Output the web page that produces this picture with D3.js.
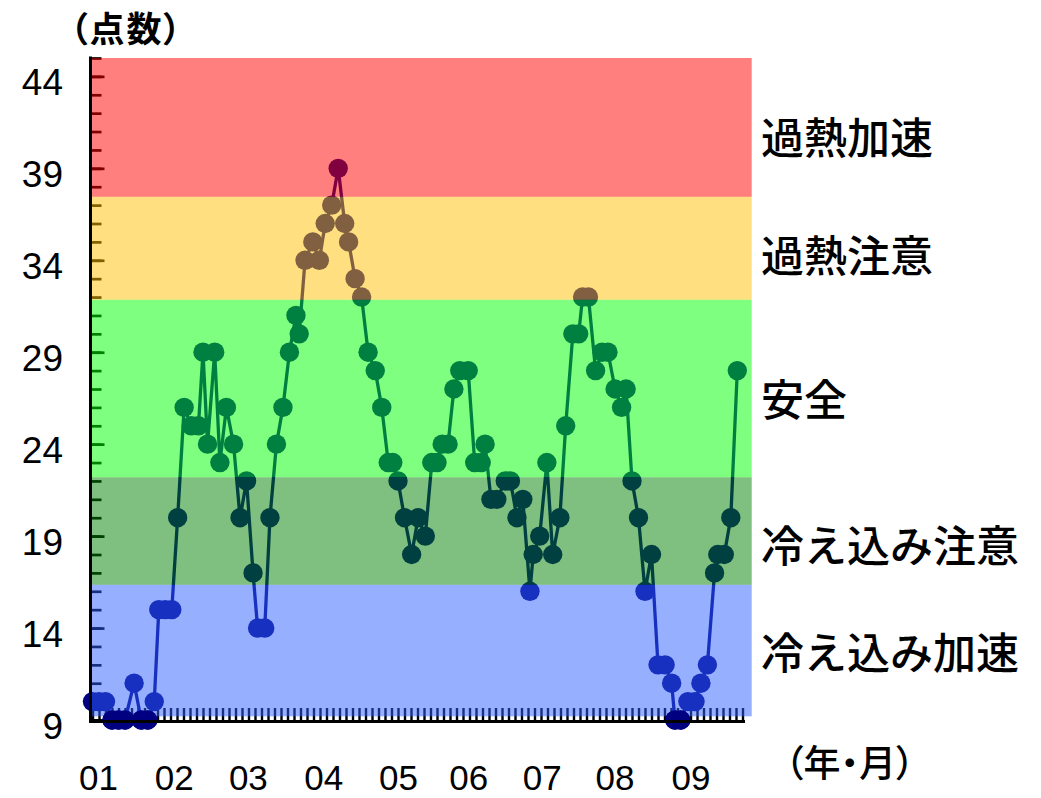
<!DOCTYPE html>
<html><head><meta charset="utf-8">
<script src="https://cdn.jsdelivr.net/npm/d3@7"></script>
<style>
body{margin:0;background:#fff}
svg{display:block}
</style>
</head><body>
<svg id="chart" width="1041" height="798"></svg>
<script>
// ---- data ----
const pos = [
  0,1,2,3,4,5,6.4,7.5,8.5,9.5,
  10.2,11.2,12.2,13.1,14.1,15.2,16.3,17,17.7,18.8,
  19.6,20.6,21.7,22.7,23.7,24.7,25.4,26.5,27.3,28.3,
  29.3,30.3,31.3,31.8,32.7,33.9,34.9,35.8,36.8,37.8,
  38.8,39.4,40.4,41.4,42.4,43.5,44.5,45.5,46.2,47,
  48,49.1,50.1,51.2,52.2,53,53.8,54.7,55.6,56.5,
  57.8,58.8,59.8,60.4,61.3,62.2,63.5,64.3,65.3,66.2,
  67.3,67.8,68.8,69.9,70.8,71.9,72.8,73.9,74.8,75.4,
  76.3,77.4,78.4,79.3,80.4,81.4,82.1,83,84,85,
  86,87,88.1,89.1,89.6,90.5,91.6,92.7,93.6,94.6,
  95.7,96.2,97.2,98.2,99.2
];
const scores = [
  10,10,10,9,9,9,11,9,9,10,
  15,15,15,20,26,25,25,29,24,29,
  23,26,24,20,22,17,14,14,20,24,
  26,29,31,30,34,35,34,36,37,39,
  36,35,33,32,29,28,26,23,23,22,
  20,18,20,19,23,23,24,24,27,28,
  28,23,23,24,21,21,22,22,20,21,
  16,18,19,23,18,20,25,30,30,32,
  32,28,29,29,27,26,27,22,20,16,
  18,12,12,11,9,9,10,10,11,12,
  17,18,18,20,28
];
const monthLabels = ["01","02","03","04","05","06","07","08","09"];
const monthPos = [0.85,12.5,23.9,35.5,47,57.8,69.1,80.3,92];
const yTickLabels = [9,14,19,24,29,34,39,44];
const bandNames = ["過熱加速","過熱注意","安全","冷え込み注意","冷え込み加速"];
const bandTops = [45,37.45,31.85,22.2,16.35];
const bandBottoms = [37.45,31.85,22.2,16.35,9.2];
const yAxisTitle = "（点数）";
const xAxisTitle = "（年・月）";

// ---- layout / style ----
const bandColors = ["#ff0000","#ffc000","#00ff00","#008000","#2d5fff"];
const labelOffset = [27,24,27,31,18];
const x = d3.scaleLinear().domain([0,100]).range([92.5,742.5]);
const y = d3.scaleLinear().domain([9,45]).range([720,58]);
const data = pos.map((p,i)=>({p, v:scores[i]}));

const svg = d3.select("#chart");

// y-axis ticks (minor and major)
const gMinor = svg.append("g").attr("transform","translate(91.5,0)")
  .call(d3.axisRight(y).tickValues(d3.range(9,46)).tickSize(10).tickFormat(""));
const gMajor = svg.append("g").attr("transform","translate(91.5,0)")
  .call(d3.axisRight(y).tickValues(yTickLabels).tickSize(13).tickFormat(""));
[gMinor,gMajor].forEach(g=>{
  g.select(".domain").remove();
  g.selectAll("line").attr("stroke","#000").attr("stroke-width",2.7);
});

// x-axis ticks
const gx = svg.append("g").attr("transform","translate(0,720)")
  .call(d3.axisTop(x).tickValues(d3.range(0,101)).tickSize(12).tickFormat(""));
gx.select(".domain").remove();
gx.selectAll("line").attr("stroke","#000").attr("stroke-width",2.4);

// data line and points
const line = d3.line().x(d=>x(d.p)).y(d=>y(d.v));
svg.append("path").datum(data).attr("d",line)
  .attr("fill","none").attr("stroke","#000080").attr("stroke-width",3.3).attr("stroke-linejoin","round");
svg.append("g").selectAll("circle").data(data).join("circle")
  .attr("cx",d=>x(d.p)).attr("cy",d=>y(d.v)).attr("r",9.7).attr("fill","#000080");

// band overlays
svg.append("g").selectAll("rect").data(bandTops).join("rect")
  .attr("x",92).attr("width",751.7-92)
  .attr("y",d=>y(d)).attr("height",(d,i)=>y(bandBottoms[i])-y(d))
  .attr("fill",(d,i)=>bandColors[i]).attr("fill-opacity",0.5);

// points below the bands stay uncovered
svg.append("g").selectAll("circle").data(data.filter(d=>d.v < bandBottoms[bandBottoms.length-1])).join("circle")
  .attr("cx",d=>x(d.p)).attr("cy",d=>y(d.v)).attr("r",9.7).attr("fill","#000080");

// axis lines
svg.append("line").attr("x1",90.5).attr("x2",90.5).attr("y1",56.5).attr("y2",723)
  .attr("stroke","#000").attr("stroke-width",3);
svg.append("line").attr("x1",89).attr("x2",745).attr("y1",721.5).attr("y2",721.5)
  .attr("stroke","#000").attr("stroke-width",3);

// y labels
const gyl = svg.append("g").attr("transform","translate(63,0)")
  .call(d3.axisLeft(y).tickValues(yTickLabels).tickSize(0).tickPadding(0));
gyl.select(".domain").remove();
gyl.selectAll("text").attr("dy","0.5em")
  .attr("font-family","'Liberation Sans', Arial, sans-serif").attr("font-size",37).attr("fill","#000");

// x labels
const gxl = svg.append("g").attr("transform","translate(0,765)")
  .call(d3.axisBottom(x).tickValues(monthPos).tickSize(0).tickPadding(0).tickFormat((d,i)=>monthLabels[i]));
gxl.select(".domain").remove();
gxl.selectAll("text")
  .attr("font-family","'Liberation Sans', Arial, sans-serif").attr("font-size",35).attr("fill","#000");

// band labels
svg.append("g").selectAll("text").data(bandNames).join("text")
  .attr("x",761)
  .attr("y",(d,i)=>y((bandTops[i]+bandBottoms[i])/2)+labelOffset[i])
  .attr("font-family","'Noto Sans CJK JP', sans-serif").attr("font-size",43).attr("font-weight",500)
  .attr("fill","#000").text(d=>d);

// axis titles
svg.append("text").attr("x",70).attr("y",42)
  .attr("font-family","'Noto Sans CJK JP', sans-serif").attr("font-size",35).attr("font-weight",700)
  .attr("letter-spacing",2)
  .style("font-feature-settings","'palt'").attr("fill","#000").text(yAxisTitle);
svg.append("text").attr("x",785).attr("y",777)
  .attr("font-family","'Noto Sans CJK JP', sans-serif").attr("font-size",37).attr("font-weight",500)
  .style("font-feature-settings","'palt'").attr("fill","#000").text(xAxisTitle);
</script>
</body></html>
